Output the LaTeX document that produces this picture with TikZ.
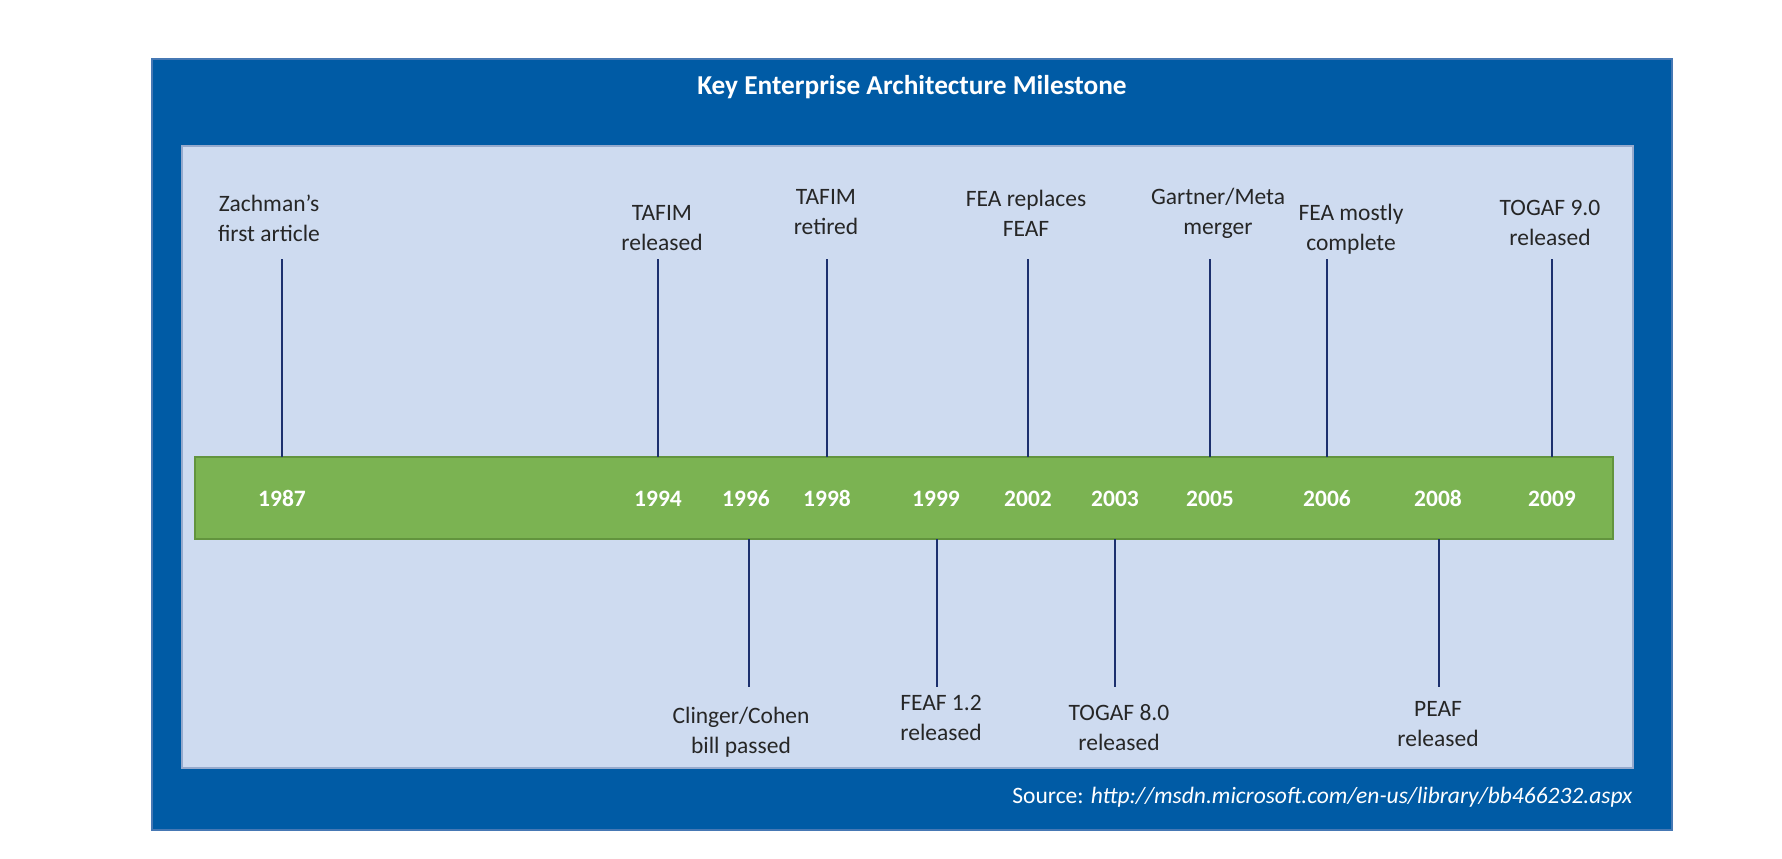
\documentclass[tikz,border=0pt]{standalone}
\usepackage{fontspec}
\setmainfont{Carlito}
\usepackage{tikz}
\usetikzlibrary{positioning}

\definecolor{frameblue}{RGB}{0,91,165}
\definecolor{frameedge}{RGB}{70,120,180}
\definecolor{panelblue}{RGB}{206,219,240}
\definecolor{paneledge}{RGB}{150,170,205}
\definecolor{bargreen}{RGB}{123,179,82}
\definecolor{baredge}{RGB}{98,148,62}
\definecolor{tickblue}{RGB}{28,48,110}
\definecolor{textgray}{RGB}{38,38,38}

\begin{document}
\begin{tikzpicture}[x=0.5pt,y=0.5pt,yscale=-1,xscale=1,
  milestone/.style={font=\fontsize{11.75}{14.75}\selectfont,text=textgray,align=center,anchor=base,inner sep=0pt},
  year/.style={font=\bfseries\fontsize{11.75}{14}\selectfont,text=white,anchor=base,inner sep=0pt},
  tick/.style={draw=tickblue,line width=1.4pt}]
\useasboundingbox (0,0) rectangle (1782,858);

%Shape: Rectangle [frame]
\draw [draw=frameedge,fill=frameblue,line width=0.6pt] (152,59) rectangle (1672,830);
%Shape: Rectangle [panel]
\draw [draw=paneledge,fill=panelblue,line width=0.6pt] (182,146) rectangle (1633,768);
%Shape: Rectangle [bar]
\draw [draw=baredge,fill=bargreen,line width=0.8pt] (195,457) rectangle (1613,539);
\coordinate (bartop) at (195,457);
\coordinate (barbot) at (195,539);

% Text Node
\node [anchor=base,font=\bfseries\fontsize{13.65}{16}\selectfont,text=white,inner sep=0pt] (title) at (912,94) {Key Enterprise Architecture Milestone};

% Years
\node [year] (y1987) at (282,506) {1987};
\node [year] (y1994) at (658,506) {1994};
\node [year] (y1996) at (746,506) {1996};
\node [year] (y1998) at (827,506) {1998};
\node [year] (y1999) at (936,506) {1999};
\node [year] (y2002) at (1028,506) {2002};
\node [year] (y2003) at (1115,506) {2003};
\node [year] (y2005) at (1210,506) {2005};
\node [year] (y2006) at (1327,506) {2006};
\node [year] (y2008) at (1438,506) {2008};
\node [year] (y2009) at (1552,506) {2009};

% Ticks above the bar
\coordinate (t1987) at (282,259);
\coordinate (t1994) at (658,259);
\coordinate (t1998) at (827,259);
\coordinate (t2002) at (1028,259);
\coordinate (t2005) at (1210,259);
\coordinate (t2006) at (1327,259);
\coordinate (t2009) at (1552,259);
\draw [tick] (t1987) -- (t1987 |- bartop);
\draw [tick] (t1994) -- (t1994 |- bartop);
\draw [tick] (t1998) -- (t1998 |- bartop);
\draw [tick] (t2002) -- (t2002 |- bartop);
\draw [tick] (t2005) -- (t2005 |- bartop);
\draw [tick] (t2006) -- (t2006 |- bartop);
\draw [tick] (t2009) -- (t2009 |- bartop);

% Ticks below the bar
\coordinate (b1996) at (749,687);
\coordinate (b1999) at (937,687);
\coordinate (b2003) at (1115,687);
\coordinate (b2008) at (1439,687);
\draw [tick] (b1996 |- barbot) -- (b1996);
\draw [tick] (b1999 |- barbot) -- (b1999);
\draw [tick] (b2003 |- barbot) -- (b2003);
\draw [tick] (b2008 |- barbot) -- (b2008);

% Text Node (base = last line)
\node [milestone] (zachman) at (269,241) {Zachman’s\\first article};
\node [milestone] (tafimrel) at (662,250) {TAFIM\\released};
\node [milestone] (tafimret) at (826,234) {TAFIM\\retired};
\node [milestone] (fearepl) at (1026,236) {FEA replaces\\FEAF};
\node [milestone] (gartner) at (1218,234) {Gartner/Meta\\merger};
\node [milestone] (feamost) at (1351,250) {FEA mostly\\complete};
\node [milestone] (togafnine) at (1550,245) {TOGAF 9.0\\released};
\node [milestone] (clinger) at (741,753) {Clinger/Cohen\\bill passed};
\node [milestone] (feafrel) at (941,740) {FEAF 1.2\\released};
\node [milestone] (togafeight) at (1119,750) {TOGAF 8.0\\released};
\node [milestone] (peaf) at (1438,746) {PEAF\\released};

% Text Node
\node [anchor=base east,font=\fontsize{11.75}{14}\selectfont,text=white,inner sep=0pt] (source) at (1633,803) {Source: \textit{http://msdn.microsoft.com/en-us/library/bb466232.aspx}};

\end{tikzpicture}
\end{document}
